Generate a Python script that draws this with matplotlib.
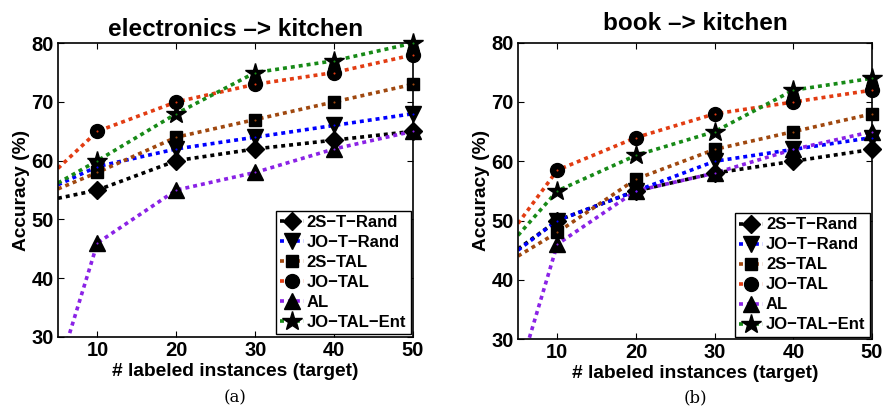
import numpy as np
import matplotlib
matplotlib.use("Agg")
import matplotlib.pyplot as plt

plt.rcParams["font.family"] = ["Liberation Sans", "DejaVu Sans"]
plt.rcParams["font.weight"] = "bold"

x = [5, 10, 20, 30, 40, 50]

# electronics -> kitchen
a_2s_rand = [53.6, 55, 60, 62, 63.5, 65]
a_jo_rand = [55.9, 59, 62, 64, 66, 68]
a_2s_tal = [55.2, 58, 64, 67, 70, 73]
a_jo_tal = [58.7, 65, 70, 73, 75, 78]
a_al = [24.2, 46, 55, 58, 62, 65]
a_jo_ent = [56.2, 60, 68, 75, 77, 80]

# book -> kitchen
b_2s_rand = [45.2, 50, 55, 58, 60, 62]
b_jo_rand = [45.0, 50, 55, 60, 62, 64]
b_2s_tal = [44.0, 48, 57, 62, 65, 68]
b_jo_tal = [49.5, 58.5, 64, 68, 70, 72]
b_al = [23.8, 46, 55, 58, 62, 65]
b_jo_ent = [47.5, 55, 61, 65, 72, 74]

names = ["2S\u2212T\u2212Rand", "JO\u2212T\u2212Rand", "2S\u2212TAL", "JO\u2212TAL", "AL", "JO\u2212TAL\u2212Ent"]
colors = ["#000000", "#0000ff", "#a0480f", "#e23c12", "#8a22e6", "#178a17"]
markers = ["D", "v", "s", "o", "^", "*"]
msizes = [9, 11, 9, 10, 11, 15]

fig = plt.figure(figsize=(8.84, 4.07), dpi=100)
ax1 = fig.add_axes([0.0656, 0.172, 0.4016, 0.722])
ax2 = fig.add_axes([0.586, 0.167, 0.4005, 0.728])

panels = [
    (ax1, [a_2s_rand, a_jo_rand, a_2s_tal, a_jo_tal, a_al, a_jo_ent], "electronics \u2013> kitchen", "(a)", -0.207, 5),
    (ax2, [b_2s_rand, b_jo_rand, b_2s_tal, b_jo_tal, b_al, b_jo_ent], "book \u2013> kitchen", "(b)", -0.2, 9),
]

for ax, series, title, cap, cap_y, tpad in panels:
    for y, name, c, m, ms in zip(series, names, colors, markers, msizes):
        # dotted line, clipped to the axes
        ax.plot(x, y, color=c, lw=2.6, linestyle=(0, (1.1, 1.1)))
        # markers, not clipped (as in the original at x = 50)
        ax.plot(x[1:], y[1:], linestyle="none", marker=m, ms=ms, mfc="k", mec="k",
                clip_on=False, zorder=3)
        # small coloured dot in the middle of each marker
        ax.plot(x[1:], y[1:], linestyle="none", marker="o", ms=1.5, color=c, mec="none",
                clip_on=False, zorder=4)
        # legend proxy
        ax.plot([], [], color=c, lw=2.6, linestyle=(0, (1.1, 1.1)), marker=m, ms=ms,
                mfc="k", mec="k", label=name)
    ax.set_xlim(5, 50)
    ax.set_ylim(30, 80)
    ax.set_xticks([10, 20, 30, 40, 50])
    ax.set_yticks([30, 40, 50, 60, 70, 80])
    ax.tick_params(direction="in", top=True, right=True, length=4, width=0.8,
                   labelsize=14.5, pad=3)
    for lab in ax.get_xticklabels() + ax.get_yticklabels():
        lab.set_fontweight("bold")
    for s in ax.spines.values():
        s.set_linewidth(1.2)
    ax.set_title(title, fontsize=17.5, fontweight="bold", pad=tpad)
    ax.set_xlabel("# labeled instances (target)", fontsize=13.8, fontweight="bold", labelpad=2)
    ax.set_ylabel("Accuracy (%)", fontsize=13.8, fontweight="bold", labelpad=1)
    leg = ax.legend(loc="lower right", handlelength=1.4, handletextpad=0.2,
                    borderpad=0.25, labelspacing=0.3, borderaxespad=0.15,
                    fancybox=False, framealpha=1, edgecolor="k",
                    prop={"weight": "bold", "size": 12})
    leg.get_frame().set_linewidth(1.0)
    ax.text(0.5, cap_y, cap, transform=ax.transAxes, ha="center", va="center",
            fontsize=12, family="DejaVu Serif", fontweight="normal")

fig.savefig("out.png", dpi=100)
